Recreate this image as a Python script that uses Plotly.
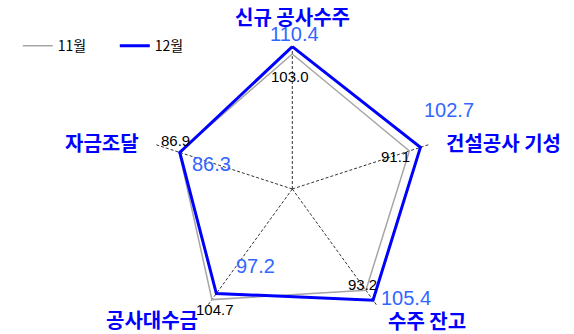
import plotly.graph_objects as go

# ---- data ----
categories = ["신규 공사수주", "건설공사 기성", "수주 잔고", "공사대수금", "자금조달"]
nov_values = [103.0, 91.1, 93.2, 104.7, 86.9]
dec_values = [110.4, 102.7, 105.4, 97.2, 86.3]
series_names = ["11월", "12월"]

# ---- styles / label placement (pixel centres, from the top-left) ----
W, H = 574, 334
category_label_pos = [(292, 16.5), (503, 142), (427, 320), (152, 319.5), (102, 142)]
nov_label_pos = [(290, 76), (395, 156), (362, 284), (215, 309), (175, 141)]
dec_label_pos = [(294, 34), (449, 110), (406, 298), (255, 266), (211, 164)]

KFONT = "Noto Sans CJK KR"
NFONT = "Liberation Sans Narrow, Arial Narrow, Liberation Sans, Arial"
GREY = "#A6A6A6"
BLUE = "#0000FF"
LABEL_BLUE = "#3366FF"


def closed(seq):
    return list(seq) + [seq[0]]


def paper_annotation(text, pos, font):
    px, py = pos
    return dict(text=text, x=px / W, y=1 - py / H, xref="paper", yref="paper",
                xanchor="center", yanchor="middle", showarrow=False, font=font)


fig = go.Figure()

fig.add_trace(go.Scatterpolar(
    r=closed(nov_values), theta=closed(categories),
    mode="lines", name=series_names[0],
    line=dict(color=GREY, width=1.5),
))
fig.add_trace(go.Scatterpolar(
    r=closed(dec_values), theta=closed(categories),
    mode="lines", name=series_names[1],
    line=dict(color=BLUE, width=3),
))

annotations = []
for c, pos in zip(categories, category_label_pos):
    annotations.append(paper_annotation(
        c, pos, dict(family=KFONT, size=20, color=BLUE, weight="bold")))
for v, pos in zip(nov_values, nov_label_pos):
    annotations.append(paper_annotation(
        f"{v:.1f}", pos, dict(family=NFONT, size=15, color="#000000")))
for v, pos in zip(dec_values, dec_label_pos):
    annotations.append(paper_annotation(
        f"{v:.1f}", pos, dict(family="Liberation Sans, Arial", size=20, color=LABEL_BLUE)))

fig.update_layout(
    width=W, height=H,
    margin=dict(l=0, r=0, t=0, b=0),
    paper_bgcolor="white",
    showlegend=True,
    legend=dict(orientation="h", x=0.031, y=0.862, xanchor="left", yanchor="middle",
                font=dict(family=KFONT, size=14, color="#000000"),
                bgcolor="rgba(0,0,0,0)", itemwidth=30, entrywidth=52),
    annotations=annotations,
    polar=dict(
        domain=dict(x=[147.3 / W, 437.3 / W], y=[0, 290 / H]),
        bgcolor="white",
        gridshape="linear",
        radialaxis=dict(visible=False, range=[-32, 113]),
        angularaxis=dict(
            type="category", categoryorder="array", categoryarray=categories,
            rotation=90, direction="clockwise",
            showline=False, showgrid=True, showticklabels=False, ticks="",
            gridcolor="#333333", griddash="3px,2px", gridwidth=1,
        ),
    ),
)

fig.write_html("out.html", config={"displayModeBar": False},
               post_script="document.body.style.margin='0';")
